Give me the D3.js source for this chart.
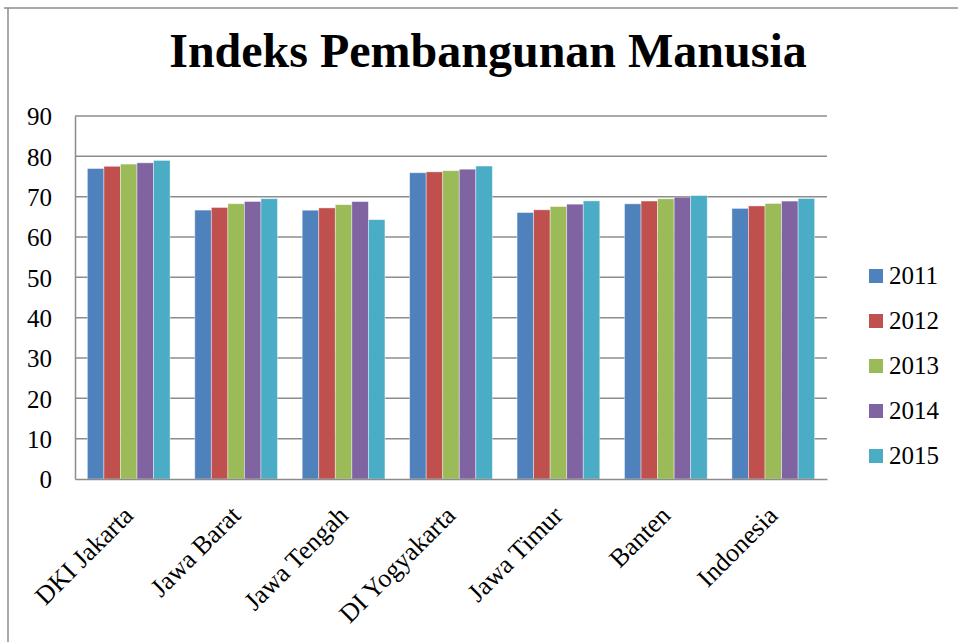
<!DOCTYPE html>
<html>
<head>
<meta charset="utf-8">
<script src="https://cdn.jsdelivr.net/npm/d3@7"></script>
<style>
  body { margin: 0; background: #fff; }
  text { font-family: "Liberation Serif", "Times New Roman", serif; fill: #000; }
</style>
</head>
<body>
<div id="chart"></div>
<script>
// data
var regions = ["DKI Jakarta", "Jawa Barat", "Jawa Tengah", "DI Yogyakarta", "Jawa Timur", "Banten", "Indonesia"];
var years = ["2011", "2012", "2013", "2014", "2015"];
var ipm2011 = [76.98, 66.67, 66.64, 75.93, 66.06, 68.22, 67.09];
var ipm2012 = [77.53, 67.32, 67.21, 76.15, 66.74, 68.92, 67.70];
var ipm2013 = [78.08, 68.25, 68.02, 76.44, 67.55, 69.47, 68.31];
var ipm2014 = [78.39, 68.80, 68.78, 76.81, 68.14, 69.89, 68.90];
var ipm2015 = [78.99, 69.50, 64.30, 77.59, 68.95, 70.27, 69.55];
var yTicks = [0, 10, 20, 30, 40, 50, 60, 70, 80, 90];
var colors = ["#4F81BD", "#C0504D", "#9BBB59", "#8064A2", "#4BACC6"];

var series = [ipm2011, ipm2012, ipm2013, ipm2014, ipm2015];

var w = 958, h = 642;
var plotLeft = 75, plotRight = 827, plotTop = 116, plotBottom = 479;

var svg = d3.select("#chart").append("svg")
    .attr("width", w)
    .attr("height", h);

// outer frame (only top and left edges are visible)
svg.append("line")
    .attr("x1", 4).attr("x2", w).attr("y1", 8).attr("y2", 8)
    .style("stroke", "#8c8c8c").style("stroke-width", 1.5);
svg.append("line")
    .attr("x1", 8).attr("x2", 8).attr("y1", 8).attr("y2", h)
    .style("stroke", "#8c8c8c").style("stroke-width", 1.5);

svg.append("text")
    .attr("x", 488)
    .attr("y", 67)
    .attr("text-anchor", "middle")
    .style("font-size", "48px")
    .style("font-weight", "bold")
    .text("Indeks Pembangunan Manusia");

var x0 = d3.scaleBand().domain(regions).range([plotLeft, plotRight]);
var x1 = d3.scaleBand().domain(years)
    .range([x0.bandwidth() * 0.115, x0.bandwidth() * 0.885]);
var y = d3.scaleLinear().domain([0, 90]).range([plotBottom, plotTop]);

// gridlines
svg.append("g")
    .selectAll("line")
    .data(yTicks.filter(function (d) { return d > 0; }))
    .enter()
    .append("line")
    .attr("x1", plotLeft).attr("x2", plotRight)
    .attr("y1", function (d) { return y(d); })
    .attr("y2", function (d) { return y(d); })
    .style("stroke", "#8c8c8c")
    .style("stroke-width", 1.5);

// bars
var groups = svg.append("g")
    .selectAll("g")
    .data(series)
    .enter()
    .append("g")
    .attr("fill", function (d, i) { return colors[i]; });

groups.selectAll("rect")
    .data(function (d, i) {
        return d.map(function (v, j) { return { region: regions[j], year: years[i], value: v }; });
    })
    .enter()
    .append("rect")
    .attr("x", function (d) { return x0(d.region) + x1(d.year); })
    .attr("width", x1.bandwidth())
    .attr("y", function (d) { return y(d.value); })
    .attr("height", function (d) { return y(0) - y(d.value); })
    .style("stroke", "#ffffff")
    .style("stroke-opacity", 0.5)
    .style("stroke-width", 0.8);

// axes
var yAxis = d3.axisLeft(y).tickValues(yTicks).tickSize(0).tickPadding(23);
var gy = svg.append("g")
    .attr("transform", "translate(" + plotLeft + ",0)")
    .attr("font-family", "'Liberation Serif', serif")
    .call(yAxis);
gy.select(".domain").style("stroke", "#8c8c8c").style("stroke-width", 1.5);
gy.selectAll("text")
    .style("font-size", "25px")
    .style("font-family", "'Liberation Serif', serif")
    .attr("dy", "0.35em");

var xAxis = d3.axisBottom(x0).tickSize(0).tickFormat("");
var gx = svg.append("g")
    .attr("transform", "translate(0," + plotBottom + ")")
    .call(xAxis);
gx.select(".domain").style("stroke", "#8c8c8c").style("stroke-width", 1.5);

svg.append("g")
    .selectAll("text")
    .data(regions)
    .enter()
    .append("text")
    .attr("transform", function (d) {
        return "translate(" + (x0(d) + x0.bandwidth() / 2 + 6) + "," + (plotBottom + 38) + ") rotate(-45)";
    })
    .attr("text-anchor", "end")
    .style("font-size", "26px")
    .text(function (d) { return d; });

// legend
var legend = svg.append("g")
    .selectAll("g")
    .data(years)
    .enter()
    .append("g")
    .attr("transform", function (d, i) { return "translate(869," + (276 + i * 45) + ")"; });

legend.append("rect")
    .attr("x", 0).attr("y", -7)
    .attr("width", 14).attr("height", 14)
    .attr("fill", function (d, i) { return colors[i]; });

legend.append("text")
    .attr("x", 20)
    .attr("y", 8)
    .style("font-size", "25px")
    .text(function (d) { return d; });
</script>
</body>
</html>
